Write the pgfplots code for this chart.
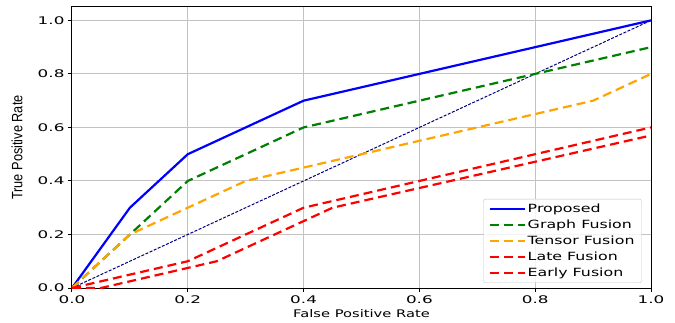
\documentclass[border=0pt]{standalone}
\usepackage{fontspec}
\setmainfont[FakeStretch=1.4]{DejaVu Sans}
\newfontfamily\tickfont[FakeStretch=1.6]{DejaVu Sans}
\newfontfamily\ylabfont[FakeStretch=0.85]{Liberation Sans}
\usepackage{pgfplots}
\pgfplotsset{compat=1.18}
\definecolor{mplblue}{RGB}{0,0,255}
\definecolor{mplgreen}{RGB}{0,128,0}
\definecolor{mplorange}{RGB}{255,165,0}
\definecolor{mplred}{RGB}{255,0,0}
\definecolor{mplnavy}{RGB}{0,0,128}
\definecolor{gridgray}{RGB}{195,195,195}
\begin{document}
\begin{tikzpicture}
\useasboundingbox (-72pt,-34pt) rectangle (603pt,288pt);
\begin{axis}[
  at={(0,0)}, anchor=south west,
  scale only axis, width=579pt, height=281pt,
  xmin=0, xmax=1, ymin=0, ymax=1.05,
  xtick={0,0.2,0.4,0.6,0.8,1.0},
  ytick={0,0.2,0.4,0.6,0.8,1.0},
  /pgf/number format/assume math mode=true,
  /pgf/number format/.cd, fixed, fixed zerofill, precision=1, /pgfplots/.cd,
  ticklabel style={font=\tickfont\fontsize{10.5}{12}\selectfont},
  tick align=outside, major tick length=4pt,
  tick style={black, line width=1pt},
  xtick pos=bottom, ytick pos=left,
  axis line style={black, line width=1pt},
  grid=major, grid style={gridgray, line width=1pt},
  xlabel={False Positive Rate},
  xlabel style={font=\fontsize{10.5}{12}\selectfont, at={(axis description cs:0.5,-0.09)}, anchor=center},
  ylabel={\ylabfont True Positive Rate},
  ylabel style={font=\fontsize{15}{17}\selectfont, at={(axis description cs:-0.095,0.5)}, anchor=center},
  legend style={at={(0.984,0.018)}, anchor=south east, draw=gridgray, rounded corners=2pt,
    fill=white, fill opacity=0.8, text opacity=1, draw opacity=1, font=\fontsize{11.3}{12}\selectfont,
    row sep=1.8pt, inner xsep=5pt, inner ysep=3pt,
    /tikz/every even column/.append style={column sep=6pt}},
  legend cell align=left,
  legend image code/.code={\draw[#1] (0pt,0pt) -- (35pt,0pt);},
]
\addplot[mplnavy, line width=1pt, dash pattern=on 3pt off 1.5pt, forget plot] coordinates {(0,0) (1,1)};
\addplot[mplblue, line width=2.2pt] coordinates {(0,0) (0.1,0.3) (0.2,0.5) (0.4,0.7) (1.0,1.0)};
\addplot[mplgreen, line width=2.2pt, dash pattern=on 9pt off 5pt] coordinates {(0,0) (0.1,0.2) (0.2,0.4) (0.4,0.6) (1.0,0.9)};
\addplot[mplorange, line width=2.2pt, dash pattern=on 9pt off 5pt] coordinates {(0,0) (0.1,0.2) (0.2,0.3) (0.3,0.4) (0.4,0.45) (0.6,0.55) (0.8,0.65) (0.9,0.7) (1.0,0.8)};
\addplot[mplred, line width=2.2pt, dash pattern=on 9pt off 5pt] coordinates {(0,0) (0.1,0.05) (0.2,0.1) (0.4,0.3) (0.6,0.4) (0.8,0.5) (1.0,0.6)};
\addplot[mplred, line width=2.2pt, dash pattern=on 9pt off 5pt] coordinates {(0,0) (0.05,0) (0.1,0.025) (0.2,0.075) (0.25,0.1) (0.3,0.15) (0.4,0.25) (0.45,0.3) (1.0,0.57)};
\legend{Proposed, Graph Fusion, Tensor Fusion, Late Fusion, Early Fusion}
\end{axis}
\end{tikzpicture}
\end{document}
